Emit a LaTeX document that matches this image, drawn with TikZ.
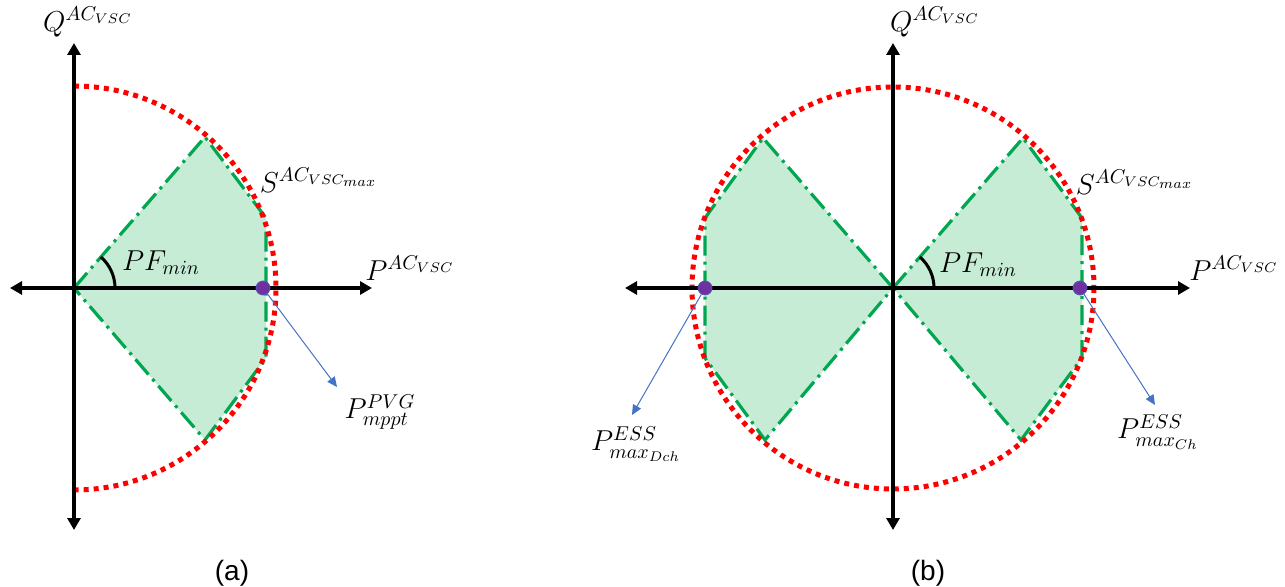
\documentclass[tikz,border=0pt]{standalone}
\usepackage{fontspec}
\usepackage{amsmath}
\usetikzlibrary{positioning,arrows.meta,calc}
\newfontfamily\capfont{Liberation Sans}
\definecolor{regfill}{RGB}{198,236,214}
\definecolor{reggreen}{RGB}{0,166,80}
\definecolor{dotpurple}{RGB}{112,48,160}
\definecolor{leadblue}{RGB}{68,114,196}

\begin{document}
\begin{tikzpicture}[
  x=0.5pt, y=-0.5pt,
  axis/.style={{Triangle[length=6pt,width=6.5pt]}-{Triangle[length=6pt,width=6.5pt]}, line width=2pt},
  limit/.style={red, line width=2.5pt, dash pattern=on 2.5pt off 2.5pt},
  region/.style={fill=regfill, draw=reggreen, line width=1.6pt, dash pattern=on 10pt off 3pt on 1.5pt off 3pt},
  opdot/.style={circle, fill=dotpurple, draw=leadblue!60!dotpurple, line width=0.4pt, inner sep=0pt, minimum size=7pt},
  lead/.style={-{Triangle[length=5pt,width=4.5pt]}, leadblue, line width=0.5pt},
  lbl/.style={font=\fontsize{14}{16}\selectfont, inner sep=1pt},
  subcap/.style={font=\capfont\fontsize{14}{16}\selectfont}
]
\useasboundingbox (0,0) rectangle (1285,587);

% (a) PV generator
\coordinate (oa) at (74,288);
\draw[region] (oa) -- (205,137) -- (266,218) -- (266,358) -- (205,440) -- cycle;
\draw[limit] (74,86) arc[start angle=-90, end angle=90, radius=202];
\draw[axis] (74,530) -- (74,43);
\draw[axis] (10,288) -- (372,288);
\draw[line width=1.5pt] (115,288) arc[start angle=0, end angle=-49, radius=41];
\node[opdot] (dota) at (263,288) {};
\coordinate (tipa) at (337,387);
\draw[lead] (dota) -- (tipa);
\node[lbl] (qa) at (88,22) {$Q^{AC_{VSC}}$};
\node[lbl] (pa) at (410,268) {$P^{AC_{VSC}}$};
\node[lbl] (sa) at (319,180) {$S^{AC_{VSC_{max}}}$};
\node[lbl] (pfa) at (161,263) {$PF_{min}$};
\node[lbl] (mppt) at (380,412) {$P^{PVG}_{mppt}$};
\node[subcap] (capa) at (232,573) {(a)};

% (b) energy storage
\coordinate (ob) at (893,288);
\draw[region] (ob) -- (1023,138) -- (1082,218) -- (1082,358) -- (1021,440) -- cycle;
\draw[region] (ob) -- (763,138) -- (705,218) -- (705,358) -- (765,440) -- cycle;
\draw[limit] (ob) circle[radius=201];
\draw[axis] (893,530) -- (893,43);
\draw[axis] (625,288) -- (1190,288);
\draw[line width=1.5pt] (934,288) arc[start angle=0, end angle=-49, radius=41];
\node[opdot] (dotch) at (1080,288) {};
\node[opdot] (dotdch) at (705,288) {};
\coordinate (tipch) at (1155,405);
\coordinate (tipdch) at (632,415);
\draw[lead] (dotch) -- (tipch);
\draw[lead] (dotdch) -- (tipdch);
\node[lbl] (qb) at (935,22) {$Q^{AC_{VSC}}$};
\node[lbl] (pb) at (1234,268) {$P^{AC_{VSC}}$};
\node[lbl] (sb) at (1135,182) {$S^{AC_{VSC_{max}}}$};
\node[lbl] (pfb) at (978,265) {$PF_{min}$};
\node[lbl] (essch) at (1158,432) {$P^{ESS}_{max_{Ch}}$};
\node[lbl] (essdch) at (636,444) {$P^{ESS}_{max_{Dch}}$};
\node[subcap] (capb) at (928,573) {(b)};
\end{tikzpicture}
\end{document}
